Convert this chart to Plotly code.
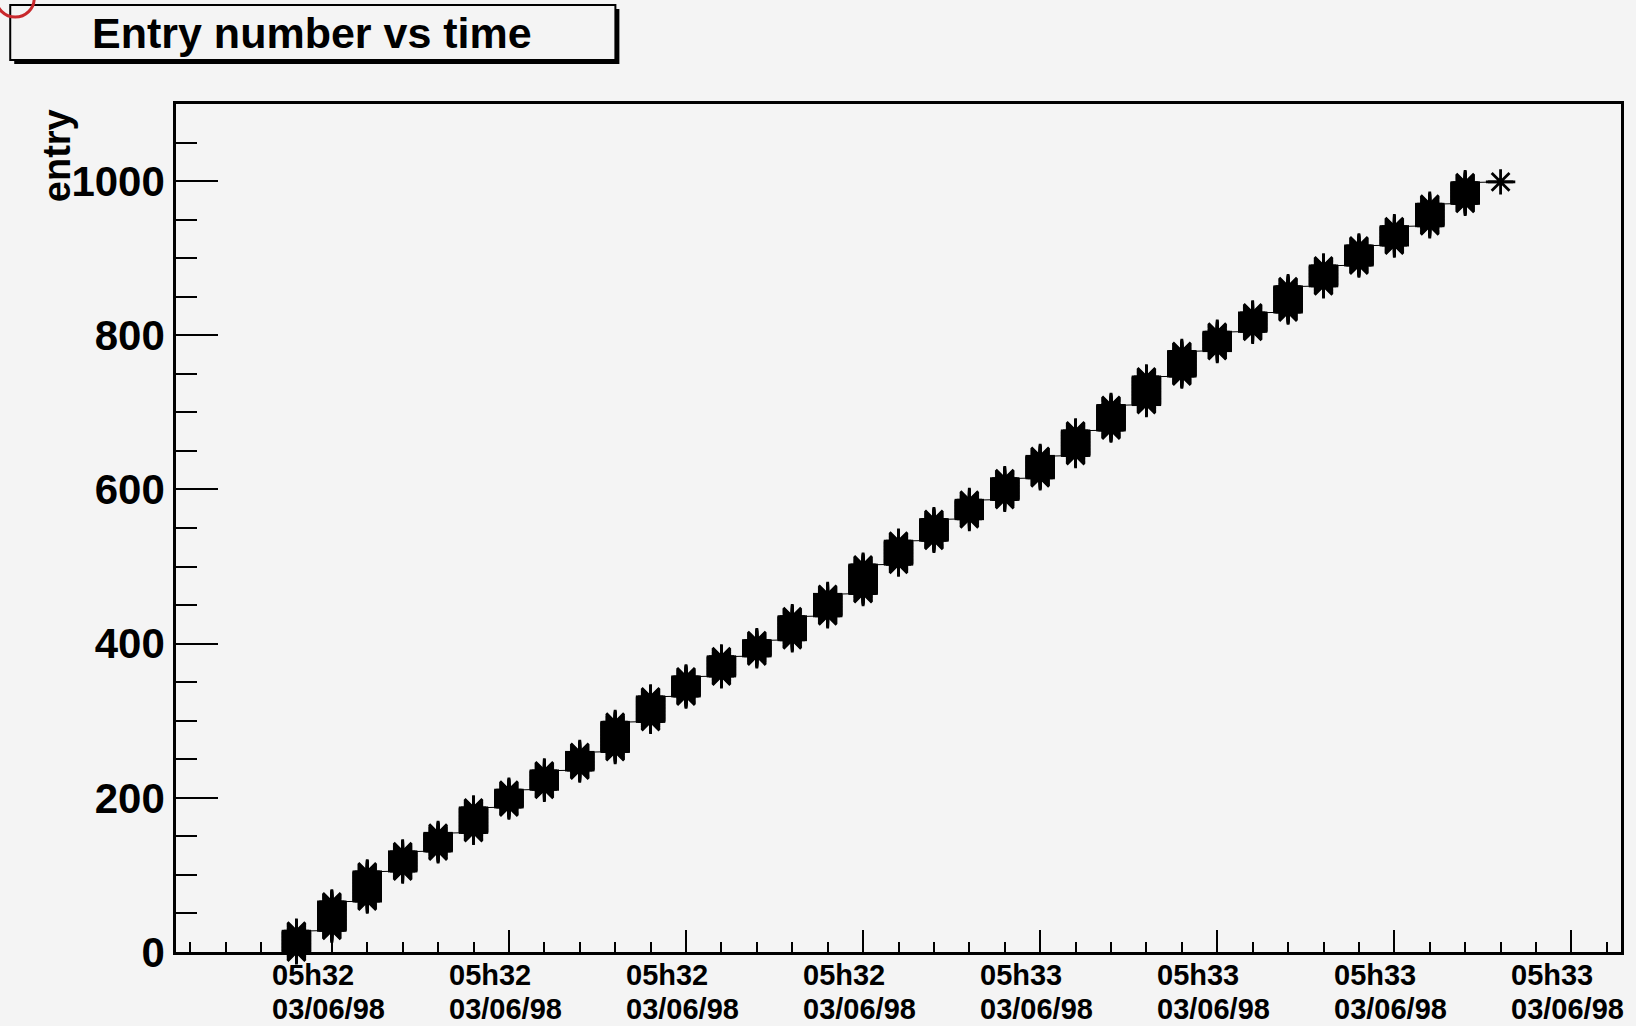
import plotly.graph_objects as go

# ---- data ---------------------------------------------------------------
DAY = "1998-06-03"

# time stamp of each group of entries (all entries of a group share it)
group_times = [
    "05:31:57", "05:32:00", "05:32:03", "05:32:06", "05:32:09", "05:32:12",
    "05:32:15", "05:32:18", "05:32:21", "05:32:24", "05:32:27", "05:32:30",
    "05:32:33", "05:32:36", "05:32:39", "05:32:42", "05:32:45", "05:32:48",
    "05:32:51", "05:32:54", "05:32:57", "05:33:00", "05:33:03", "05:33:06",
    "05:33:09", "05:33:12", "05:33:15", "05:33:18", "05:33:21", "05:33:24",
    "05:33:27", "05:33:30", "05:33:33", "05:33:36", "05:33:39",
]
# first entry number recorded at each time stamp
group_first_entry = [
    0, 28, 66, 105, 131, 155, 188, 211, 236, 260, 299, 332, 358, 384, 405,
    436, 465, 503, 534, 562, 587, 615, 644, 677, 710, 747, 780, 805, 830,
    864, 891, 917, 942, 971, 999,
]
n_entries = 1000

# axis ticks and their labels
tick_times = ["05:32:00", "05:32:15", "05:32:30", "05:32:45",
              "05:33:00", "05:33:15", "05:33:30", "05:33:45"]
tick_hour_labels = ["05h32", "05h32", "05h32", "05h32",
                    "05h33", "05h33", "05h33", "05h33"]
tick_date_labels = ["03/06/98", "03/06/98", "03/06/98", "03/06/98",
                    "03/06/98", "03/06/98", "03/06/98", "03/06/98"]

# ---- expand groups into one point per entry ----------------------------
entry = []
time = []
bounds = group_first_entry + [n_entries]
for i, t in enumerate(group_times):
    for e in range(bounds[i], bounds[i + 1]):
        entry.append(e)
        time.append(f"{DAY} {t}")

# ---- layout geometry (pixels) -------------------------------------------
W, H = 1636, 1026
L, R, T, B = 176, 13, 104, 74
PW, PH = W - L - R, H - T - B


def px(x):
    return (x - L) / PW


def py(y):
    return (H - B - y) / PH


BG = "#f4f4f4"
FONT = "Liberation Sans"

fig = go.Figure()
# polyline through all entries with star markers
fig.add_trace(go.Scatter(
    x=time, y=entry,
    mode="lines+markers",
    line=dict(color="black", width=1),
    marker=dict(symbol="asterisk-open", size=21, color="black",
                line=dict(width=2.8, color="black")),
    cliponaxis=False, showlegend=False, hoverinfo="skip",
))
# wider horizontal stroke of the star marker
fig.add_trace(go.Scatter(
    x=time, y=entry,
    mode="markers",
    marker=dict(symbol="line-ew-open", size=21, color="black",
                line=dict(width=2.8, color="black")),
    cliponaxis=False, showlegend=False,
))

annotations = []
for t, hl, dl in zip(tick_times, tick_hour_labels, tick_date_labels):
    for txt, yy in ((hl, 974.5), (dl, 1008.5)):
        annotations.append(dict(
            x=f"{DAY} {t}", xref="x", y=py(yy), yref="paper",
            text=txt, showarrow=False, xanchor="left", yanchor="middle",
            xshift=-62, font=dict(family=FONT, size=29, color="black",
                                  weight="bold"),
        ))

# y axis title
annotations.append(dict(
    x=px(57), y=py(156), xref="paper", yref="paper", text="entry",
    textangle=-90, showarrow=False, xanchor="center", yanchor="middle",
    font=dict(family=FONT, size=38, color="black", weight="bold"),
))
# title text
annotations.append(dict(
    x=px(312), y=py(33), xref="paper", yref="paper",
    text="Entry number vs time", showarrow=False,
    xanchor="center", yanchor="middle",
    font=dict(family=FONT, size=43, color="black", weight="bold"),
))

shapes = [
    # title box shadow and box
    dict(type="rect", xref="paper", yref="paper",
         x0=px(14), x1=px(620), y0=py(9), y1=py(64),
         fillcolor="black", line=dict(width=0)),
    dict(type="rect", xref="paper", yref="paper",
         x0=px(10), x1=px(616), y0=py(5), y1=py(60),
         fillcolor=BG, line=dict(color="black", width=2)),
    # red marker circle in the corner
    dict(type="circle", xref="paper", yref="paper",
         x0=px(-4), x1=px(34), y0=py(-20), y1=py(17),
         line=dict(color="#c8282c", width=3)),
]

fig.update_layout(
    width=W, height=H,
    margin=dict(l=L, r=R, t=T, b=B, pad=0),
    paper_bgcolor=BG, plot_bgcolor=BG,
    font=dict(family=FONT, color="black"),
    annotations=annotations,
    shapes=shapes,
    xaxis=dict(
        type="date",
        range=[f"{DAY} 05:31:46.8", f"{DAY} 05:33:49.2"],
        tickmode="linear", tick0=f"{DAY} 05:32:00", dtick=15000,
        showticklabels=False, ticks="inside", ticklen=22, tickwidth=2,
        tickcolor="black",
        minor=dict(tick0=f"{DAY} 05:32:00", dtick=3000, ticks="inside",
                   ticklen=10, tickwidth=2, tickcolor="black"),
        showgrid=False, zeroline=False,
        showline=True, mirror=True, linecolor="black", linewidth=2.5,
    ),
    yaxis=dict(
        range=[0, 1100],
        tickmode="linear", tick0=0, dtick=200,
        ticks="inside", ticklen=42, tickwidth=2, tickcolor="black",
        minor=dict(dtick=50, ticks="inside", ticklen=21, tickwidth=2,
                   tickcolor="black"),
        tickfont=dict(family=FONT, size=42, color="black", weight="bold"),
        ticklabelstandoff=0,
        showgrid=False, zeroline=False,
        showline=True, mirror=True, linecolor="black", linewidth=2.5,
    ),
)

fig.write_html("out.html")
